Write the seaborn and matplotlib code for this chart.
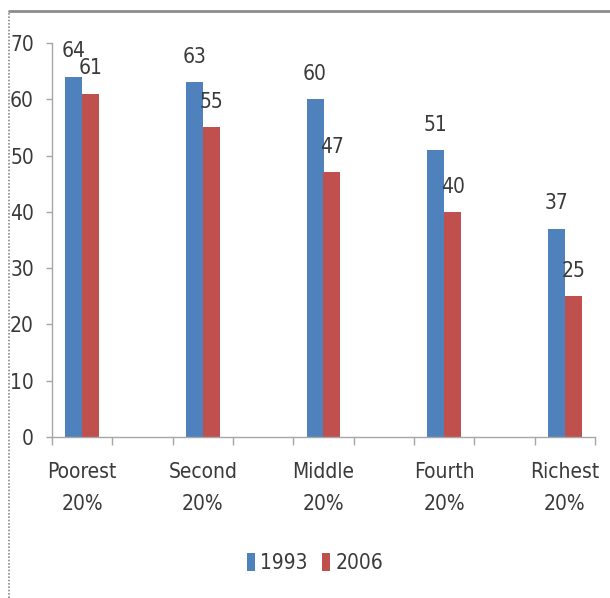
import matplotlib
matplotlib.use("Agg")
import matplotlib.pyplot as plt
from matplotlib.lines import Line2D
import seaborn as sns
import pandas as pd

# Share of population by wealth quintile, two survey years
groups = ["Poorest\n20%", "Second\n20%", "Middle\n20%", "Fourth\n20%", "Richest\n20%"]
years = ["1993", "2006"]
values_1993 = [64, 63, 60, 51, 37]
values_2006 = [61, 55, 47, 40, 25]

colors = {"1993": "#4F81BD", "2006": "#C0504D"}
text_color = "#3a3a3a"
axis_color = "#a6a6a6"

sns.set_theme(style="white")
plt.rcParams["font.family"] = ["DejaVu Sans"]
plt.rcParams["font.stretch"] = "condensed"

df = pd.DataFrame({
    "group": groups * 2,
    "year": [years[0]] * len(groups) + [years[1]] * len(groups),
    "value": values_1993 + values_2006,
})

# empty slots between quintiles give the wide gaps between bar pairs
order = []
for i, g in enumerate(groups):
    order.append(g)
    if i < len(groups) - 1:
        order.append(" " * (i + 1))

fig = plt.figure(figsize=(6.10, 5.98), dpi=100)
ax = fig.add_axes([52 / 610, 1 - 437 / 598, 543 / 610, 394 / 598])

sns.barplot(data=df, x="group", y="value", hue="year", order=order,
            hue_order=years, palette=colors, width=0.56, saturation=1,
            edgecolor="none", linewidth=0, ax=ax, legend=True)

for container in ax.containers:
    ax.bar_label(container, fmt="%d", padding=11, fontsize=15, color=text_color)

ax.set_xlim(-0.5, len(order) - 0.5)
ax.set_ylim(0, 70)
ax.set_yticks(range(0, 71, 10))
ax.set_xlabel("")
ax.set_ylabel("")

centers = [order.index(g) for g in groups]
ax.set_xticks(centers)
ax.set_xticklabels(groups, linespacing=1.75)
ax.set_xticks([i - 0.5 for i in range(len(order) + 1)], minor=True)

ax.tick_params(axis="x", which="major", length=0, pad=18, labelsize=15, colors=text_color)
ax.tick_params(axis="x", which="minor", length=6, width=1, color=axis_color, direction="out", bottom=True)
ax.tick_params(axis="y", length=4, width=1, color=axis_color, direction="out", left=True,
               pad=9, labelsize=15, labelcolor=text_color)

for side in ["top", "right"]:
    ax.spines[side].set_visible(False)
for side in ["left", "bottom"]:
    ax.spines[side].set_color(axis_color)
    ax.spines[side].set_linewidth(1)

leg = ax.get_legend()
handles = leg.legend_handles
leg.remove()
fig.legend(handles, years, loc="center", bbox_to_anchor=(315 / 610, 1 - 563 / 598),
           ncol=2, frameon=False, fontsize=15, handlelength=0.4, handleheight=1.0,
           handletextpad=0.25, columnspacing=0.7, labelcolor=text_color)

# outer chart frame: solid top edge, dotted left edge
fig.add_artist(Line2D([9 / 610, 1], [1 - 11 / 598, 1 - 11 / 598], transform=fig.transFigure,
                      color="#8c8c8c", linewidth=2))
fig.add_artist(Line2D([9 / 610, 9 / 610], [0, 1 - 11 / 598], transform=fig.transFigure,
                      color="#8c8c8c", linewidth=1.2, linestyle=(0, (1, 1))))

fig.savefig("out.png", dpi=100)
